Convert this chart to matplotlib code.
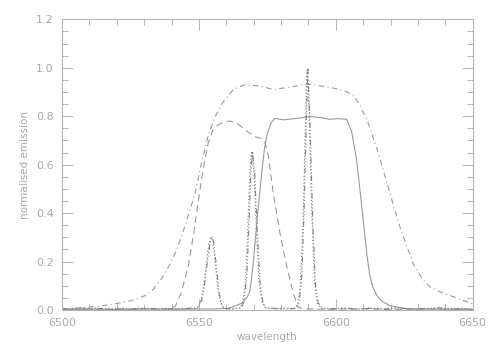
import matplotlib
matplotlib.use("Agg")
import matplotlib.pyplot as plt
from matplotlib.ticker import MultipleLocator

# broad filter (dash-dot)
wl_broad = [6500, 6505, 6510, 6515, 6520, 6525, 6528, 6531, 6533.5, 6536, 6539, 6542, 6545, 6548.6,
            6551, 6553.4, 6556, 6558.9, 6562.6, 6566.8, 6572, 6577.2, 6583, 6590, 6597.6,
            6603, 6606.4, 6609, 6611.9, 6615.5, 6619.8, 6623.5, 6628.3, 6631.5, 6634.4, 6639, 6644.2, 6650]
em_broad = [0.004, 0.008, 0.012, 0.018, 0.027, 0.038, 0.048, 0.063, 0.088, 0.124, 0.18, 0.25, 0.35, 0.48,
            0.61, 0.72, 0.80, 0.86, 0.91, 0.93, 0.925, 0.91, 0.92, 0.932, 0.92,
            0.905, 0.888, 0.84, 0.77, 0.65, 0.48, 0.34, 0.19, 0.13, 0.096, 0.07, 0.05, 0.025]

# wide filter (dashed)
wl_wide = [6500, 6510, 6520, 6530, 6538, 6541.3, 6543.5, 6546.1, 6548, 6549.8, 6551.5, 6553.4,
           6555, 6557.1, 6559, 6561.4, 6564, 6566.2, 6568.5, 6571.1, 6572.9, 6574.2, 6575.4,
           6577.2, 6579.6, 6582.1, 6584.5, 6586.3, 6590, 6600, 6610, 6620, 6630, 6640, 6650]
em_wide = [0.002, 0.004, 0.003, 0.005, 0.004, 0.014, 0.07, 0.18, 0.31, 0.45, 0.58, 0.69,
           0.74, 0.765, 0.775, 0.78, 0.77, 0.75, 0.73, 0.713, 0.708, 0.69, 0.633,
           0.48, 0.317, 0.179, 0.069, 0.01, 0.004, 0.003, 0.005, 0.002, 0.004, 0.003, 0.002]

# continuum filter (solid)
wl_cont = [6500, 6510, 6520, 6530, 6540, 6550, 6556, 6560.7, 6563, 6565.6, 6567.5, 6568.7,
           6569.9, 6571.3, 6572.9, 6574, 6575, 6576.5, 6577.8, 6580.8, 6585, 6590.6, 6594,
           6597.9, 6601, 6604, 6605.8, 6607.6, 6609.5, 6611.3, 6612.3, 6613.5, 6615, 6617, 6619.8,
           6624.7, 6630, 6640, 6650]
em_cont = [0.002, 0.003, 0.002, 0.004, 0.003, 0.004, 0.004, 0.007, 0.015, 0.028, 0.05, 0.08,
           0.2, 0.38, 0.564, 0.67, 0.73, 0.775, 0.791, 0.785, 0.79, 0.798, 0.795,
           0.787, 0.79, 0.787, 0.736, 0.619, 0.427, 0.234, 0.15, 0.095, 0.06, 0.035, 0.018,
           0.007, 0.004, 0.003, 0.002]

# narrow filters, dotted
wl_dot = [6500, 6504, 6508, 6512, 6516, 6520, 6524, 6528, 6532, 6536, 6540, 6544, 6548, 6549.5,
          6550.5, 6551.5, 6552.5, 6553.5, 6554.2, 6555, 6556, 6557, 6558, 6559, 6562, 6565,
          6566, 6567, 6567.8, 6568.6, 6569.2, 6570, 6571, 6572, 6573, 6574, 6578, 6582, 6585,
          6586, 6587, 6588, 6588.8, 6589.5, 6590.3, 6591.2, 6592.2, 6593.2, 6594.5, 6597,
          6602, 6607, 6612, 6617, 6622, 6627, 6632, 6637, 6642, 6646, 6650]
em_dot = [0.004, 0.007, 0.002, 0.009, 0.003, 0.006, 0.002, 0.008, 0.004, 0.006, 0.003, 0.007, 0.004, 0.01,
          0.03, 0.08, 0.17, 0.26, 0.30, 0.29, 0.19, 0.08, 0.025, 0.008, 0.004, 0.008,
          0.03, 0.12, 0.33, 0.57, 0.65, 0.58, 0.33, 0.11, 0.035, 0.01, 0.005, 0.008, 0.006,
          0.02, 0.1, 0.35, 0.72, 0.99, 0.8, 0.4, 0.12, 0.03, 0.008, 0.004,
          0.007, 0.003, 0.008, 0.004, 0.009, 0.003, 0.006, 0.008, 0.003, 0.007, 0.004]

# narrow filters, dash-dot-dot-dot
wl_ddd = [6500, 6503, 6507, 6511, 6515, 6519, 6523, 6527, 6531, 6535, 6539, 6543, 6547, 6549.8,
          6551, 6552, 6553, 6554, 6554.6, 6555.4, 6556.4, 6557.4, 6558.4, 6559.5, 6563, 6565.5,
          6566.5, 6567.5, 6568.3, 6569, 6569.6, 6570.4, 6571.4, 6572.4, 6573.4, 6574.5, 6579, 6583,
          6585.5, 6586.5, 6587.5, 6588.4, 6589.2, 6589.8, 6590.6, 6591.6, 6592.6, 6593.6, 6595,
          6598, 6603, 6608, 6613, 6618, 6623, 6628, 6633, 6638, 6643, 6647, 6650]
em_ddd = [0.006, 0.003, 0.008, 0.004, 0.007, 0.002, 0.006, 0.003, 0.008, 0.004, 0.006, 0.003, 0.008, 0.01,
          0.04, 0.1, 0.19, 0.27, 0.305, 0.28, 0.18, 0.07, 0.02, 0.006, 0.005, 0.009,
          0.035, 0.14, 0.36, 0.58, 0.655, 0.56, 0.3, 0.1, 0.03, 0.008, 0.006, 0.004,
          0.008, 0.025, 0.12, 0.4, 0.78, 1.0, 0.76, 0.36, 0.1, 0.028, 0.01,
          0.005, 0.008, 0.003, 0.007, 0.004, 0.008, 0.003, 0.006, 0.009, 0.004, 0.006, 0.003]

axis_col = "#b4b4b4"
line_col = "#9a9a9a"
text_col = "#a8a8a8"

fig = plt.figure(figsize=(4.91, 3.5), dpi=100)
ax = fig.add_axes([0.1263, 0.1143, 0.8364, 0.8306])

lw = 0.8
ax.plot(wl_broad, em_broad, color=line_col, lw=lw, dashes=(5, 3, 1, 3))
ax.plot(wl_wide, em_wide, color=line_col, lw=lw, dashes=(6, 4))
ax.plot(wl_cont, em_cont, color=line_col, lw=lw)
ax.plot(wl_dot, em_dot, color="#808080", lw=lw, dashes=(1, 2))
ax.plot(wl_ddd, em_ddd, color="#808080", lw=lw, dashes=(5, 2, 1, 2, 1, 2, 1, 2))

ax.set_xlim(6500, 6650)
ax.set_ylim(0, 1.2)
ax.xaxis.set_major_locator(MultipleLocator(50))
ax.xaxis.set_minor_locator(MultipleLocator(10))
ax.yaxis.set_major_locator(MultipleLocator(0.2))
ax.yaxis.set_minor_locator(MultipleLocator(0.05))
ax.yaxis.set_major_formatter(plt.FuncFormatter(lambda v, p: f"{v:.1f}"))

for s in ax.spines.values():
    s.set_color(axis_col)
    s.set_linewidth(0.8)
ax.tick_params(which="both", direction="in", top=True, right=True, colors=axis_col,
               labelcolor=text_col, labelsize=8, width=0.7)
ax.tick_params(which="major", length=8, pad=6)
ax.tick_params(which="minor", length=4)

ax.set_xlabel("wavelength", color=text_col, fontsize=7.5, labelpad=3)
ax.set_ylabel("normalised emission", color=text_col, fontsize=7.5, labelpad=4)

fig.savefig("out.png", dpi=100)
